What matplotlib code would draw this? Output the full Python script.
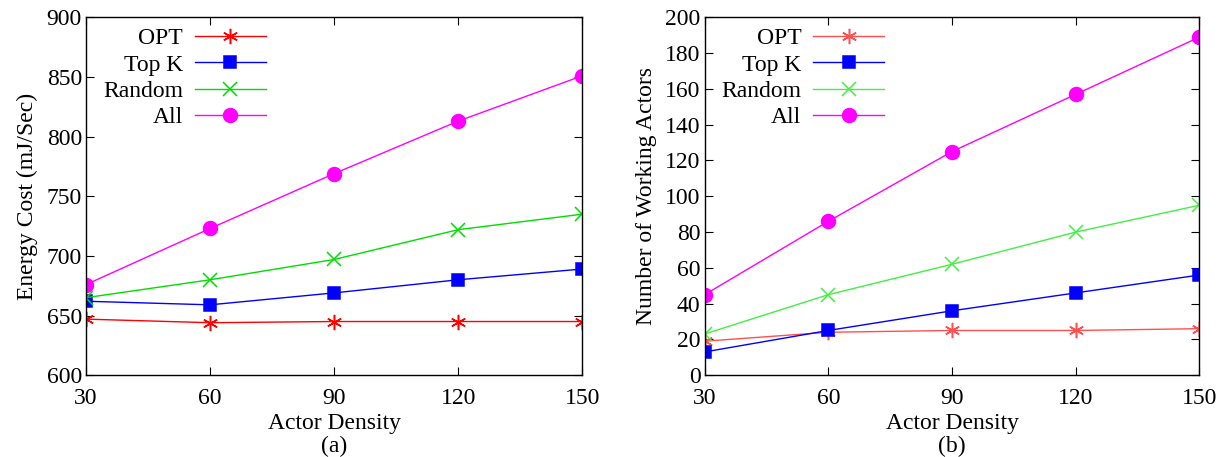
import numpy as np
import matplotlib.pyplot as plt

plt.rcParams["font.family"] = ["Liberation Serif", "DejaVu Serif"]

density = [30, 60, 90, 120, 150]
series_names = ["OPT", "Top K", "Random", "All"]

# (a) energy cost, mJ/Sec
energy_opt = [647, 644, 645, 645, 645]
energy_topk = [662, 659, 669, 680, 689]
energy_random = [665, 680, 697, 722, 735]
energy_all = [676, 723, 769, 813, 851]

# (b) number of working actors
actors_opt = [19, 24, 25, 25, 26]
actors_topk = [13, 25, 36, 46, 56]
actors_random = [23, 45, 62, 80, 95]
actors_all = [45, 86, 125, 157, 189]

colors = ["#ff0000", "#0000ff", "#00dd00", "#ff00ff"]
markers = [(6, 2, 0), "s", "x", "o"]
msizes = [11, 9, 10, 10]

FS = 17


def draw(ax, data, ylim, yticks, ylabel, tag, light=False):
    for name, vals, c, m, ms in zip(series_names, data, colors, markers, msizes):
        col = c
        if light and name in ("OPT", "Random"):
            col = {"OPT": "#ff5050", "Random": "#44ee44"}[name]
        ax.plot(density, vals, color=col, marker=m, markersize=ms,
                linewidth=1.0, markeredgewidth=1.1, label=name)
    ax.set_xlim(30, 150)
    ax.set_ylim(*ylim)
    ax.set_xticks(density)
    ax.set_yticks(yticks)
    ax.tick_params(direction="in", top=True, right=True, labelsize=FS, length=6)
    ax.tick_params(axis="x", pad=9)
    ax.tick_params(axis="y", pad=3)
    ax.set_xlabel("Actor Density\n" + tag, fontsize=FS, linespacing=1.15, labelpad=3)
    ax.set_ylabel(ylabel, fontsize=FS, labelpad=6)
    ax.legend(loc="upper left", frameon=False, markerfirst=False, fontsize=FS,
              handlelength=3.0, handletextpad=0.5, labelspacing=0.2,
              borderaxespad=0.0, bbox_to_anchor=(0.015, 0.997))
    for s in ax.spines.values():
        s.set_linewidth(1.0)


fig = plt.figure(figsize=(12.19, 4.57), dpi=100)
ax1 = fig.add_axes([0.0706, 0.179, 0.407, 0.783])
ax2 = fig.add_axes([0.578, 0.179, 0.406, 0.783])

draw(ax1, [energy_opt, energy_topk, energy_random, energy_all],
     (600, 900), range(600, 901, 50), "Energy Cost (mJ/Sec)", "(a)")
draw(ax2, [actors_opt, actors_topk, actors_random, actors_all],
     (0, 200), range(0, 201, 20), "Number of Working Actors", "(b)", light=True)

fig.savefig("out.png", dpi=100)
